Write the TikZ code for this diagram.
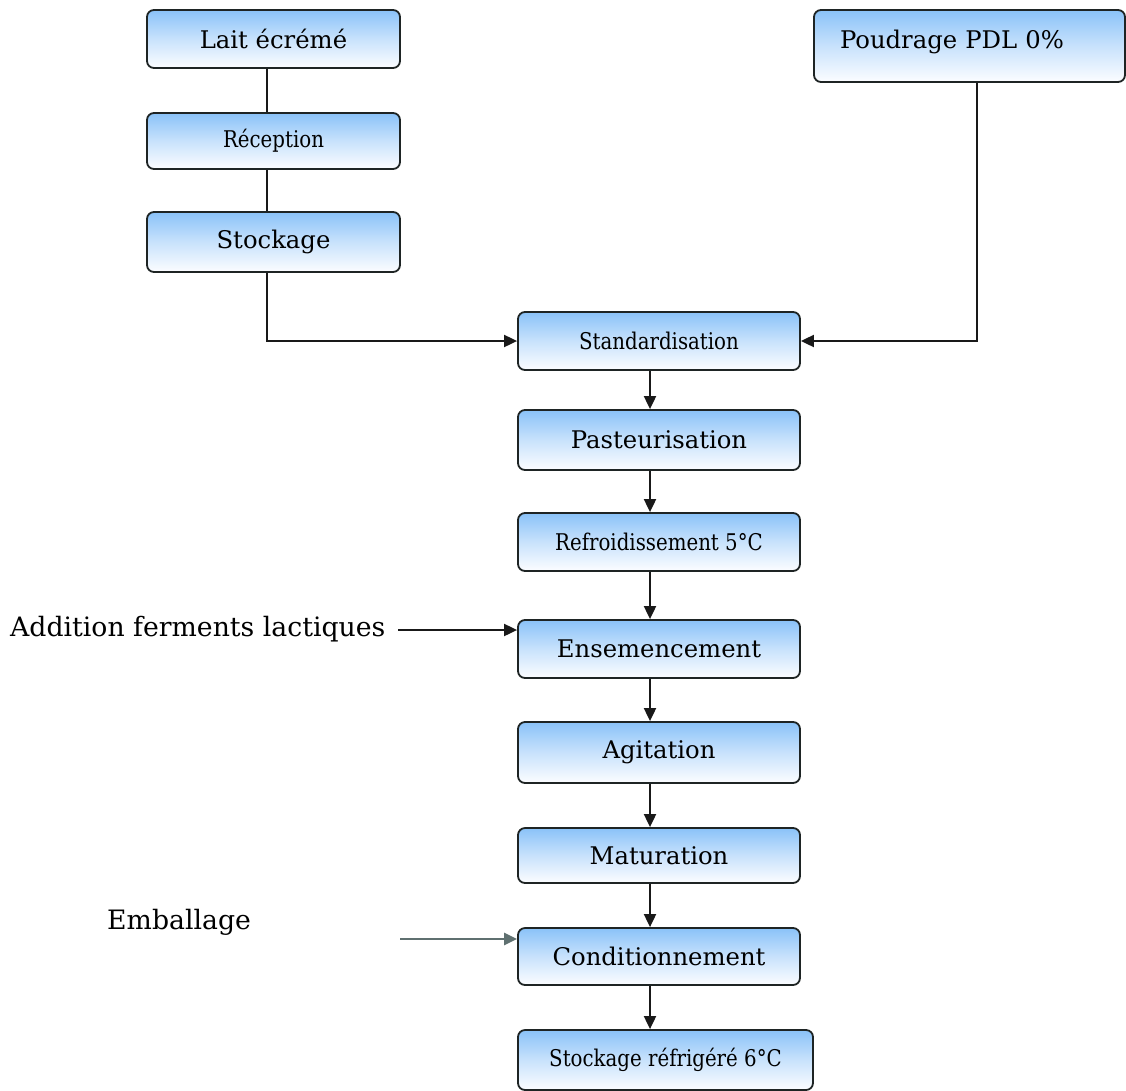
\documentclass[tikz,border=0pt]{standalone}
\usepackage{fontspec}
\setmainfont{DejaVu Serif}
\newfontfamily\narrowfont{DejaVu Serif}[FakeStretch=0.86]
\usetikzlibrary{arrows.meta,positioning}

\definecolor{boxtop}{RGB}{138,194,248}
\definecolor{boxmid}{RGB}{200,226,252}
\definecolor{boxbot}{RGB}{252,253,255}
\definecolor{boxline}{RGB}{30,36,36}
\definecolor{packline}{RGB}{95,112,112}

\tikzset{
  stepbox/.style={draw=boxline, line width=1.8pt, rounded corners=7pt,
    top color=boxtop, bottom color=boxbot, middle color=boxmid, inner sep=0pt,
    minimum width=282pt, minimum height=58pt, font=\fontsize{24.3}{28}\selectfont},
  narrowbox/.style={stepbox, font=\narrowfont\fontsize{23}{27}\selectfont},
  link/.style={line width=1.9pt, draw=black!90},
  flow/.style={link, -{Triangle[length=13pt,width=12pt]}},
  sidetext/.style={inner sep=0pt, anchor=base west, font=\fontsize{26.7}{30}\selectfont}
}

\begin{document}
\begin{tikzpicture}[x=1pt, y=-1pt]
  \useasboundingbox (0,0) rectangle (1126,1090);

  % raw milk line on the left
  \node[stepbox, minimum width=253pt, minimum height=58pt] (lait)  at (273.5,39)  {Lait écrémé};
  \node[narrowbox, minimum width=253pt, minimum height=56pt] (recep) at (273.5,141) {Réception};
  \node[stepbox, minimum width=253pt, minimum height=60pt] (stock) at (273.5,242) {Stockage};

  % milk powder input
  \node[stepbox, minimum width=311pt, minimum height=72pt, text width=259pt,
        align=left, inner xsep=26pt, text height=38pt, text depth=34pt]
        (poud) at (969.5,46) {Poudrage PDL 0\%};

  % main process column
  \node[narrowbox, minimum height=58pt] (std)   at (659,341)  {Standardisation};
  \node[stepbox,  minimum height=60pt] (past)  at (659,440)  {Pasteurisation};
  \node[narrowbox, minimum height=58pt] (refr)  at (659,542)  {Refroidissement 5°C};
  \node[stepbox,  minimum height=58pt] (ense)  at (659,649)  {Ensemencement};
  \node[stepbox,  minimum height=61pt] (agit)  at (659,752.5){Agitation};
  \node[stepbox,  minimum height=55pt] (matu)  at (659,855.5){Maturation};
  \node[stepbox,  minimum height=57pt] (cond)  at (659,956.5){Conditionnement};
  \node[narrowbox, minimum width=295pt, minimum height=60pt] (stref) at (665.5,1060) {Stockage réfrigéré 6°C};

  % side inputs
  \node[sidetext] (ferm) at (10,636) {Addition ferments lactiques};
  \node[sidetext] (emb)  at (107,929) {Emballage};
  \coordinate (fermstart) at (398,630);
  \coordinate (embstart)  at (400,939);

  % connectors
  \draw[link] (lait.south -| 267,0) -- (recep.north -| 267,0);
  \draw[link] (recep.south -| 267,0) -- (stock.north -| 267,0);
  \draw[flow] (stock.south -| 267,0) |- (std.west);
  \draw[flow] (poud.south -| 977,0) |- (std.east);

  \foreach \a/\b in {std/past, past/refr, refr/ense, ense/agit, agit/matu, matu/cond}
    \draw[flow] ([xshift=-9pt]\a.south) -- ([xshift=-9pt]\b.north);
  \draw[flow] ([xshift=-9pt]cond.south) -- ([xshift=-15.5pt]stref.north);

  \draw[flow] (fermstart) -- (fermstart -| ense.west);
  \draw[flow, draw=packline, line width=2.8pt] (embstart) -- (embstart -| cond.west);
\end{tikzpicture}
\end{document}
